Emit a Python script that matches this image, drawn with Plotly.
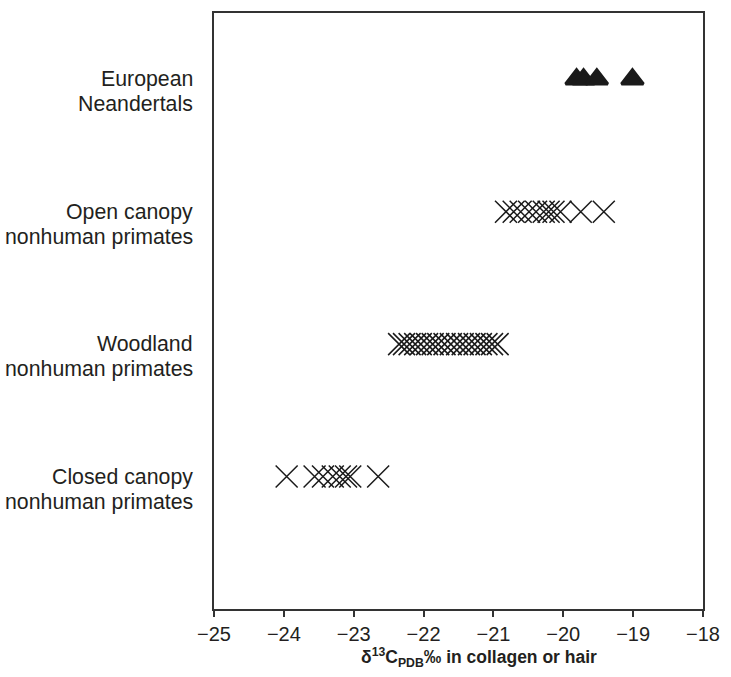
import plotly.graph_objects as go

# Row labels (top to bottom) and their row positions
categories = ["European\nNeandertals",
              "Open canopy\nnonhuman primates",
              "Woodland\nnonhuman primates",
              "Closed canopy\nnonhuman primates"]
row_pos = [4, 3, 2, 1]

# δ13C values
neandertals = [-19.81, -19.71, -19.52, -19.01]
open_canopy = [-20.82, -20.71, -20.61, -20.49, -20.39, -20.28, -20.21, -20.14,
               -20.04, -19.75, -19.42]
woodland = [-22.35, -22.28, -22.2, -22.12, -22.04, -21.95, -21.87, -21.79,
            -21.7, -21.61, -21.52, -21.44, -21.35, -21.27, -21.18, -21.1,
            -21.02, -20.94]
closed_canopy = [-23.96, -23.56, -23.44, -23.3, -23.2, -23.11, -23.05, -22.65]

x_ticks = [-25, -24, -23, -22, -21, -20, -19, -18]

INK = "#1a1a1a"
FONT = "Liberation Sans, Arial, sans-serif"
fig = go.Figure()

fig.add_trace(go.Scatter(
    x=neandertals, y=[row_pos[0]] * len(neandertals), mode="markers",
    marker=dict(symbol="triangle-up", size=19, color=INK,
                line=dict(color=INK, width=3)),
    showlegend=False, hoverinfo="x"))

for vals, r in [(open_canopy, row_pos[1]), (woodland, row_pos[2]),
                (closed_canopy, row_pos[3])]:
    fig.add_trace(go.Scatter(
        x=vals, y=[r] * len(vals), mode="markers",
        marker=dict(symbol="x-thin", size=22, color=INK,
                    line=dict(color=INK, width=1.5)),
        showlegend=False, hoverinfo="x"))

H, W = 677, 731
mt, mb, ml, mr = 11, 68, 214, 26

annotations = []
for lab, r in zip(categories, row_pos):
    for i, line in enumerate(lab.split("\n")):
        annotations.append(dict(
            x=0, xref="paper", y=r, yref="y", text=line,
            xanchor="right", yanchor="middle", xshift=-19, yshift=-25 * i,
            showarrow=False,
            font=dict(family=FONT, size=21.3, color="#231f20")))

annotations.append(dict(
    x=0.542, xref="paper", y=-(658 - (H - mb)) / (H - mt - mb), yref="paper",
    text="<b>δ<sup>13</sup>C<sub>PDB</sub>‰ in collagen or hair</b>",
    showarrow=False, xanchor="center", yanchor="middle",
    font=dict(family=FONT, size=17.5, color="#231f20")))

fig.update_layout(
    width=W, height=H,
    margin=dict(l=ml, r=mr, t=mt, b=mb, pad=0),
    plot_bgcolor="white", paper_bgcolor="white",
    annotations=annotations,
    xaxis=dict(range=[-25, -18], tickvals=x_ticks, ticks="outside", ticklen=6,
               tickwidth=1.5, tickcolor="#333", showline=True, mirror=True,
               linecolor="#333", linewidth=2, showgrid=False, zeroline=False,
               tickfont=dict(family=FONT, size=20, color="#231f20")),
    yaxis=dict(range=[0, 4.5], showticklabels=False, ticks="", showline=True,
               mirror=True, linecolor="#333", linewidth=2, showgrid=False,
               zeroline=False),
)

fig.write_html("out.html", config={"displayModeBar": False},
               post_script="document.body.style.margin='0';document.body.style.padding='0';")
